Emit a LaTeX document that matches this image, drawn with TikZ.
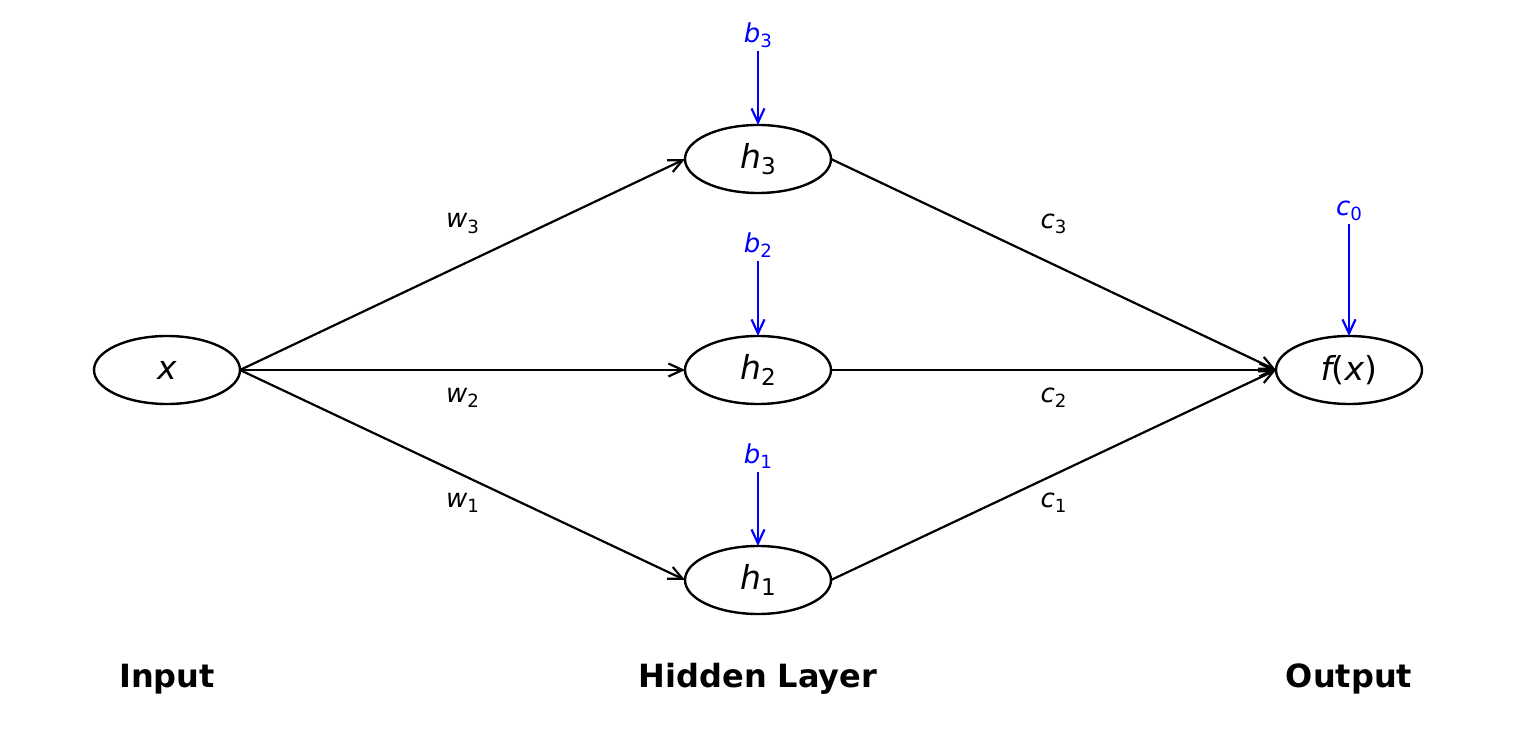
\documentclass[tikz,border=0pt]{standalone}
\usepackage{fontspec}
\setmainfont{DejaVu Sans}
\usetikzlibrary{arrows.meta,shapes.geometric}

\newcommand{\vsub}[2]{\textit{#1}\raisebox{-0.2em}{\scalebox{0.7}{#2}}}

\begin{document}
\begin{tikzpicture}[x=0.5pt, y=0.5pt,
	neuron/.style={ellipse, draw, line width=1.2pt, minimum width=73pt, minimum height=34pt,
		inner sep=0pt, outer sep=0pt, font=\fontsize{16.5}{19}\selectfont},
	weight/.style={font=\fontsize{13}{15}\selectfont},
	bias/.style={text=blue, inner sep=1.5pt, font=\fontsize{13}{15}\selectfont},
	conn/.style={line width=1.1pt, -{Straight Barb[length=7pt,width=6.5pt]}},
	biasconn/.style={conn, blue},
	layer/.style={font=\fontsize{16}{19}\selectfont\bfseries}]

\useasboundingbox (0,0) rectangle (1516,740);

% neurons
\node[neuron] (x) at (167,370) {\textit{x}};
\node[neuron] (h3) at (758,581) {\vsub{h}{3}};
\node[neuron] (h2) at (758,370) {\vsub{h}{2}};
\node[neuron] (h1) at (758,160) {\vsub{h}{1}};
\node[neuron] (fx) at (1349,370) {\textit{f}\kern-0.14em(\textit{x})};

% biases
\node[bias] (b3) at (758,705) {\vsub{b}{3}};
\node[bias] (b2) at (758,495) {\vsub{b}{2}};
\node[bias] (b1) at (758,284) {\vsub{b}{1}};
\node[bias] (c0) at (1349,529) {\vsub{c}{0}};

\draw[biasconn] (b3.south) -- (h3.north);
\draw[biasconn] (b2.south) -- (h2.north);
\draw[biasconn] (b1.south) -- (h1.north);
\draw[biasconn] (c0.south) -- (fx.north);

% input -> hidden
\draw[conn] (x.east) -- node[weight, midway, yshift=20.5pt] {\vsub{w}{3}} (h3.west);
\draw[conn] (x.east) -- node[weight, midway, yshift=-14pt] {\vsub{w}{2}} (h2.west);
\draw[conn] (x.east) -- node[weight, midway, yshift=-14pt] {\vsub{w}{1}} (h1.west);

% hidden -> output
\draw[conn] (h3.east) -- node[weight, midway, yshift=20.5pt] {\vsub{c}{3}} (fx.west);
\draw[conn] (h2.east) -- node[weight, midway, yshift=-14pt] {\vsub{c}{2}} (fx.west);
\draw[conn] (h1.east) -- node[weight, midway, yshift=-14pt] {\vsub{c}{1}} (fx.west);

% layer names
\node[layer] (input) at (167,61) {Input};
\node[layer] (hidden) at (758,61) {Hidden Layer};
\node[layer] (output) at (1349,61) {Output};
\end{tikzpicture}
\end{document}
